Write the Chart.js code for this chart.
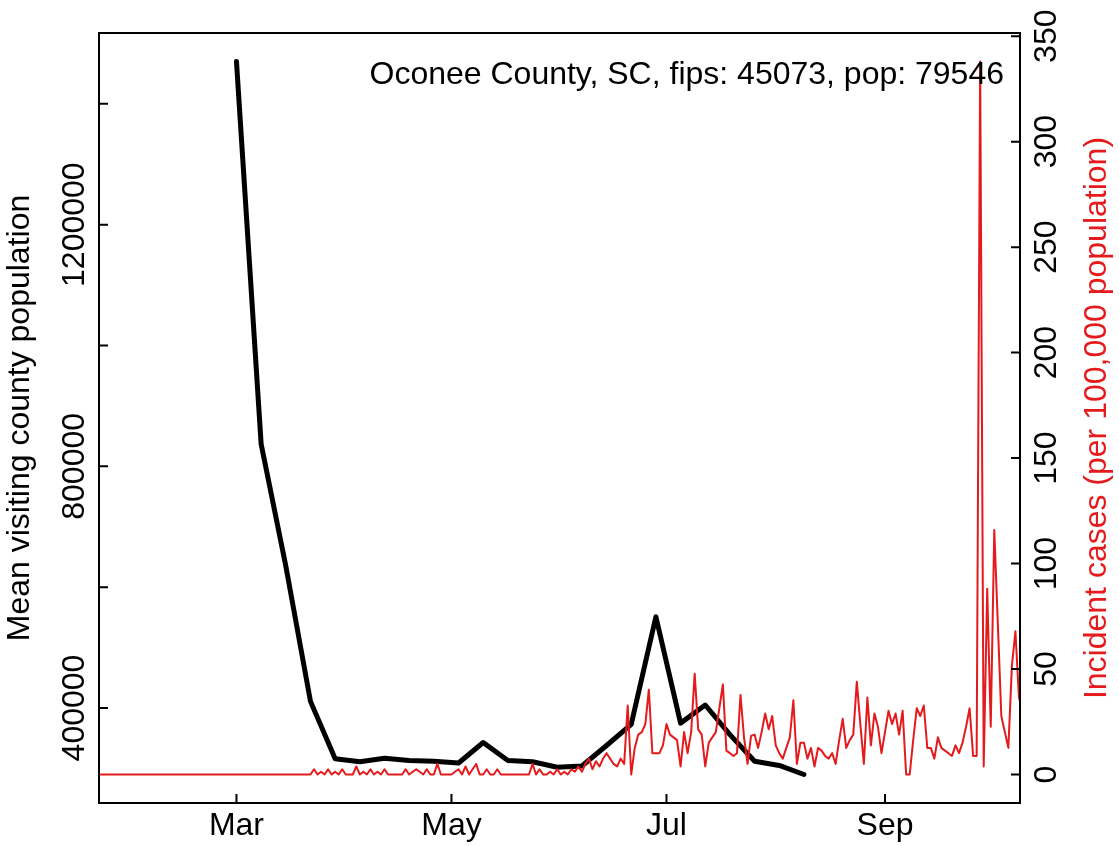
<!DOCTYPE html>
<html lang="en">
<head>
  <meta charset="UTF-8">
  <title>Oconee County, SC</title>
  <script src="https://cdn.jsdelivr.net/npm/chart.js@4"></script>
  <style>
    html, body { margin: 0; padding: 0; background: #fff; }
    canvas { display: block; }
  </style>
</head>
<body>
  <canvas id="chart" width="1119" height="846"></canvas>

  <script>
    // weekly mean visiting county population (left axis)
    const visitDates = [
      '2020-03-01', '2020-03-08', '2020-03-15', '2020-03-22', '2020-03-29', '2020-04-05',
      '2020-04-12', '2020-04-19', '2020-04-26', '2020-05-03', '2020-05-10', '2020-05-17',
      '2020-05-24', '2020-05-31', '2020-06-07', '2020-06-14', '2020-06-21', '2020-06-28',
      '2020-07-05', '2020-07-12', '2020-07-19', '2020-07-26', '2020-08-02', '2020-08-09'
    ];
    const visitPop = [
      1470000, 837000, 635000, 411000, 316000, 311000,
      317000, 313000, 312000, 309000, 343000, 313000,
      311000, 302000, 304000, 338000, 373000, 551000,
      375000, 405000, 356000, 312000, 305000, 290000
    ];

    // daily incident cases per 100,000 (right axis), one value per day from caseStart
    const caseStart = '2020-01-22';
    const caseRate = [
      0, 0, 0, 0, 0, 0, 0, 0, 0, 0,
      0, 0, 0, 0, 0, 0, 0, 0, 0, 0,
      0, 0, 0, 0, 0, 0, 0, 0, 0, 0,
      0, 0, 0, 0, 0, 0, 0, 0, 0, 0,
      0, 0, 0, 0, 0, 0, 0, 0, 0, 0,
      0, 0, 0, 0, 0, 0, 0, 0, 0, 0,
      0, 2.5, 0, 1.3, 0, 2.5, 0, 1.3, 0, 2.5,
      0, 0, 0, 3.8, 0, 1.3, 0, 2.5, 0, 1.3,
      0, 2.5, 0, 0, 0, 0, 0, 2.5, 0, 1.3,
      2.5, 1.3, 0, 2.5, 0, 0, 5.0, 0, 0, 0,
      0, 1.3, 2.5, 0, 3.8, 0, 2.5, 5.0, 0, 0,
      2.5, 0, 0, 2.5, 0, 0, 0, 0, 0, 0,
      0, 0, 0, 5.0, 0, 2.5, 0, 0, 1.3, 0,
      2.5, 0, 1.3, 0, 2.5, 1.3, 3.8, 1.3, 5.0, 7.5,
      2.5, 6.3, 3.8, 7.5, 10.1, 7.5, 5.0, 3.8, 7.5, 5.0,
      32.7, 0, 12.6, 18.9, 20.1, 23.9, 40.2, 10.1, 10.1, 10.1,
      13.8, 23.9, 18.9, 17.6, 16.3, 3.8, 20.1, 10.1, 20.1, 47.8,
      21.4, 18.9, 3.8, 15.1, 17.6, 20.1, 31.4, 42.7, 11.3, 10.1,
      8.8, 10.1, 37.7, 17.6, 5.0, 18.3, 18.9, 12.6, 20.1, 28.9,
      21.4, 27.7, 13.8, 10.1, 7.5, 12.6, 17.6, 35.2, 5.0, 15.1,
      15.1, 7.5, 12.6, 3.8, 12.6, 11.3, 8.8, 7.5, 10.1, 5.0,
      16.3, 26.4, 12.6, 16.3, 18.9, 44.0, 23.9, 5.0, 36.5, 13.8,
      28.9, 22.6, 10.1, 20.1, 30.2, 23.9, 28.9, 18.9, 30.2, 0,
      0, 16.3, 31.4, 27.7, 32.7, 12.6, 12.6, 7.5, 17.6, 12.6,
      11.3, 10.1, 8.8, 13.8, 10.1, 15.1, 22.6, 31.4, 8.8, 8.8,
      338.0, 3.8, 88.0, 22.6, 115.9, 72.0, 27.7, 20.1, 12.6, 51.5,
      67.9, 36.5, 30.2
    ];

    // axis ticks
    const monthTicks = ['2020-03-01', '2020-05-01', '2020-07-01', '2020-09-01'];
    const monthLabels = ['Mar', 'May', 'Jul', 'Sep'];
    const popTicks = [400000, 600000, 800000, 1000000, 1200000, 1400000];
    const popLabels = ['400000', '', '800000', '', '1200000', ''];
    const caseTicks = [0, 50, 100, 150, 200, 250, 300, 350];

    const RED = '#E41A1C';
    const FONT = '"Liberation Sans", Arial, Helvetica, sans-serif';

    Chart.defaults.font.family = FONT;
    Chart.defaults.font.size = 32;
    Chart.defaults.color = '#000';

    // day number in 2020 (1 Jan = 0)
    function dayOf(s) {
      const [y, m, d] = s.split('-').map(Number);
      return (Date.UTC(y, m - 1, d) - Date.UTC(2020, 0, 1)) / 864e5;
    }

    const c0 = dayOf(caseStart);
    const visitData = visitDates.map((d, i) => ({ x: dayOf(d), y: visitPop[i] }));
    const caseData = caseRate.map((v, i) => ({ x: c0 + i, y: v }));

    // R adds 4% to each end of a data range
    function padRange(vals) {
      const lo = Math.min(...vals), hi = Math.max(...vals), r = hi - lo;
      return [lo - 0.04 * r, hi + 0.04 * r];
    }
    const [popMin, popMax] = padRange(visitPop);
    const [caseMin, caseMax] = padRange(caseRate);

    // widest tick labels, so the rotated labels can be centred like R does
    const mctx = document.createElement('canvas').getContext('2d');
    mctx.font = '32px ' + FONT;
    const wPop = mctx.measureText('1200000').width;
    const wCase = mctx.measureText('350').width;

    // box, inward ticks, legend text and right axis title
    const frame = {
      id: 'frame',
      afterDraw(chart) {
        const { ctx, chartArea: a, scales } = chart;
        ctx.save();
        ctx.strokeStyle = '#000';
        ctx.lineWidth = 2;
        ctx.beginPath();
        scales.x.ticks.forEach(t => {
          const p = scales.x.getPixelForValue(t.value);
          ctx.moveTo(p, a.bottom);
          ctx.lineTo(p, a.bottom - 9);
        });
        scales.y.ticks.forEach(t => {
          const p = scales.y.getPixelForValue(t.value);
          ctx.moveTo(a.left, p);
          ctx.lineTo(a.left + 9, p);
        });
        scales.y1.ticks.forEach(t => {
          const p = scales.y1.getPixelForValue(t.value);
          ctx.moveTo(a.right, p);
          ctx.lineTo(a.right - 9, p);
        });
        ctx.stroke();
        ctx.strokeRect(a.left, a.top, a.right - a.left, a.bottom - a.top);

        ctx.font = '32px ' + FONT;
        ctx.fillStyle = '#000';
        ctx.textAlign = 'right';
        ctx.textBaseline = 'alphabetic';
        ctx.fillText('Oconee County, SC, fips: 45073, pop: 79546', a.right - 16, a.top + 51);

        ctx.translate(1097, (a.top + a.bottom) / 2);
        ctx.rotate(-Math.PI / 2);
        ctx.textAlign = 'center';
        ctx.textBaseline = 'middle';
        ctx.fillStyle = RED;
        ctx.fillText('Incident cases (per 100,000 population)', 0, 0);
        ctx.restore();
      }
    };

    new Chart(document.getElementById('chart'), {
      type: 'line',
      data: {
        datasets: [
          {
            data: caseData,
            yAxisID: 'y1',
            borderColor: RED,
            borderWidth: 2,
            pointRadius: 0,
            borderJoinStyle: 'round',
            order: 0
          },
          {
            data: visitData,
            yAxisID: 'y',
            borderColor: '#000',
            borderWidth: 5,
            pointRadius: 0,
            borderJoinStyle: 'round',
            borderCapStyle: 'round',
            order: 1
          }
        ]
      },
      options: {
        responsive: false,
        animation: false,
        layout: { padding: { top: 33, left: 0, right: 0, bottom: 0 } },
        plugins: { legend: { display: false }, tooltip: { enabled: false } },
        scales: {
          x: {
            type: 'linear',
            min: 21,
            max: 282.3,
            afterBuildTicks: s => { s.ticks = monthTicks.map(d => ({ value: dayOf(d) })); },
            afterFit: s => { s.height = 43; },
            grid: { display: false, drawTicks: false },
            border: { display: false },
            ticks: {
              callback: (v, i) => monthLabels[i],
              padding: 4,
              maxRotation: 0,
              autoSkip: false
            }
          },
          y: {
            position: 'left',
            min: popMin,
            max: popMax,
            afterBuildTicks: s => { s.ticks = popTicks.map(v => ({ value: v })); },
            afterFit: s => { s.width = 99; },
            grid: { display: false, drawTicks: false },
            border: { display: false },
            ticks: {
              callback: (v, i) => popLabels[i],
              minRotation: 90,
              maxRotation: 90,
              crossAlign: 'center',
              padding: 24 - wPop / 2,
              autoSkip: false
            },
            title: {
              display: true,
              text: 'Mean visiting county population',
              padding: { top: 0.5, bottom: 0 }
            }
          },
          y1: {
            position: 'right',
            min: caseMin,
            max: caseMax,
            afterBuildTicks: s => { s.ticks = caseTicks.map(v => ({ value: v })); },
            afterFit: s => { s.width = 99; },
            grid: { display: false, drawTicks: false },
            border: { display: false },
            ticks: {
              minRotation: 90,
              maxRotation: 90,
              crossAlign: 'center',
              padding: 27.5 - wCase / 2,
              autoSkip: false
            }
          }
        }
      },
      plugins: [frame]
    });
  </script>
</body>
</html>
